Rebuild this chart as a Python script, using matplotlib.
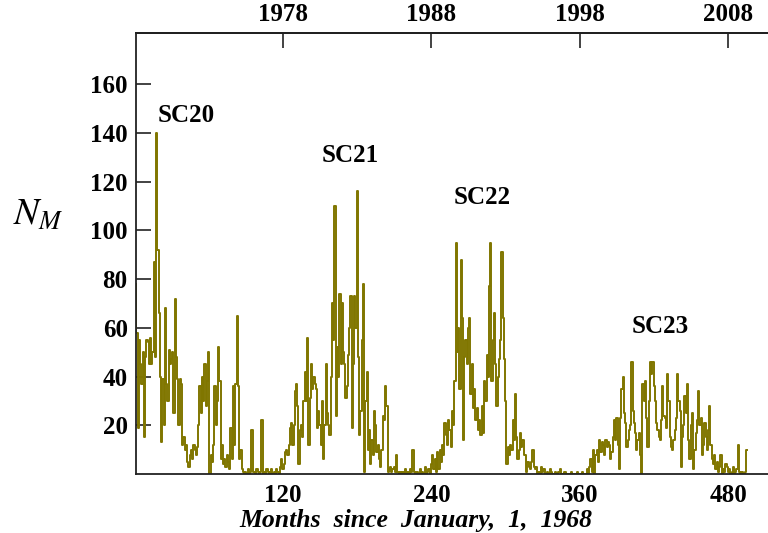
import numpy as np
import matplotlib
matplotlib.use("Agg")
import matplotlib.pyplot as plt

# monthly N_M values, month 1 = Jan 1968
cycle20 = [
    78, 58, 19, 55, 45, 37, 50, 15, 48, 55, 54, 45,
    56, 45, 50, 87, 48, 140, 92, 66, 40, 13, 39, 20,
    68, 37, 30, 51, 45, 47, 50, 25, 72, 48, 39, 20,
    39, 37, 12, 15, 10, 12, 5, 3, 8, 10, 6, 12,
    10, 8, 11, 20, 36, 25, 40, 30, 45, 28, 38, 50,
    0, 8, 5, 12, 36, 20, 30, 52, 38, 6, 12, 4,
    6, 3, 8, 5, 2, 19, 6, 36, 12, 37, 65, 36,
    6, 10, 2, 1, 0, 1, 0, 2, 0, 1, 18, 1,
    1, 0, 2, 1, 0, 1, 22, 0, 1, 0, 2, 1,
    0, 1, 2, 0, 1, 0, 2, 1, 0, 3, 6, 2,
]
cycle21 = [
    4, 9, 10, 8, 12, 19, 21, 12, 20, 34, 37, 28,
    4, 18, 20, 15, 30, 42, 30, 56, 12, 31, 45, 35,
    40, 37, 35, 19, 26, 20, 12, 30, 6, 20, 45, 25,
    20, 16, 40, 70, 55, 110, 24, 52, 40, 74, 45, 70,
    50, 45, 31, 36, 49, 60, 73, 19, 45, 73, 60, 116,
    48, 16, 26, 55, 78, 1, 30, 42, 10, 18, 4, 14,
    8, 26, 20, 9, 12, 6, 3, 10, 24, 22, 36, 28,
    1, 2, 3, 1, 2, 3, 1, 8, 1, 0, 1, 0,
    1, 0, 2, 0, 1, 0, 2, 1, 10, 1, 0, 1,
]
cycle22 = [
    1, 0, 2, 0, 1, 0, 3, 0, 1, 2, 0, 4,
    8, 2, 6, 1, 9, 2, 10, 5, 12, 8, 21, 16,
    12, 22, 18, 11, 26, 20, 38, 95, 50, 60, 35, 88,
    64, 14, 48, 55, 45, 60, 64, 33, 45, 27, 35, 22,
    27, 18, 22, 16, 28, 17, 38, 30, 49, 40, 77, 95,
    38, 55, 66, 45, 28, 40, 47, 55, 91, 64, 47, 30,
    4, 11, 8, 12, 10, 22, 14, 33, 15, 6, 10, 17,
    11, 14, 8, 8, 1, 5, 3, 2, 5, 10, 3, 2,
    3, 0, 1, 0, 3, 1, 2, 0, 0, 1, 0, 2,
    1, 0, 0, 1, 0, 0, 1, 2, 0, 0, 0, 1,
    0, 0, 0, 0, 1, 0, 0, 0, 0, 1, 0, 0,
    0, 1, 0, 0, 0, 2, 0, 3, 6, 1, 10, 0,
]
cycle23 = [
    8, 10, 5, 14, 9, 13, 12, 8, 14, 11, 13, 12,
    6, 9, 15, 22, 14, 23, 12, 2, 23, 35, 40, 25,
    21, 11, 14, 18, 20, 46, 26, 21, 17, 10, 14, 17,
    8, 0, 37, 30, 38, 23, 11, 30, 46, 41, 46, 36,
    30, 21, 18, 15, 14, 22, 36, 24, 23, 19, 41, 30,
    15, 11, 10, 14, 18, 23, 41, 30, 26, 3, 15, 20,
    32, 25, 37, 14, 6, 20, 25, 2, 10, 17, 22, 34,
    20, 23, 8, 12, 21, 15, 10, 18, 28, 12, 6, 4,
    8, 2, 5, 1, 3, 8, 0, 2, 1, 4, 3, 1,
    2, 0, 1, 3, 0, 1, 2, 12, 1, 0, 1, 0,
    0, 1, 10,
]

month_ticks = [120, 240, 360, 480]
year_labels = ["1978", "1988", "1998", "2008"]
y_ticks = [20, 40, 60, 80, 100, 120, 140, 160]
cycle_names = ["SC20", "SC21", "SC22", "SC23"]
cycle_label_pos = [(41.6, 147.3), (174, 130.8), (281, 113.6), (424.6, 60.6)]

nm = np.array(cycle20 + cycle21 + cycle22 + cycle23, dtype=float)
months = np.arange(1, len(nm) + 1)

# ===============================================
# FIGURE SETUP
# ===============================================
plt.rcParams["font.family"] = ["Liberation Serif", "DejaVu Serif"]
plt.rcParams["mathtext.fontset"] = "stix"

W, H = 768, 533
fig = plt.figure(figsize=(W / 100, H / 100), dpi=100)
ax = fig.add_axes([136 / W, (H - 474) / H, (W - 136) / W, (474 - 33) / H])

ax.plot(months, nm, color="#807600", lw=1.4, drawstyle="steps-mid")

ax.set_xlim(1.2, 512)
ax.set_ylim(0, 181)

ax.set_xticks(month_ticks)
ax.set_yticks(y_ticks)
ax.tick_params(axis="both", direction="in", labelsize=18, color="#222222")
ax.tick_params(axis="x", length=0, pad=7)
ax.tick_params(axis="y", length=11, width=1.2, pad=6)
for lab in ax.get_xticklabels() + ax.get_yticklabels():
    lab.set_fontweight("bold")

ax.spines["right"].set_visible(False)
for s in ["left", "bottom", "top"]:
    ax.spines[s].set_linewidth(1.3)
    ax.spines[s].set_color("#222222")

# year axis on top
top = ax.secondary_xaxis("top")
top.set_xticks(month_ticks, labels=year_labels)
top.tick_params(direction="in", length=11, width=1.2, labelsize=18,
                pad=5, color="#222222")
for lab in top.get_xticklabels():
    lab.set_fontweight("bold")
top.spines["top"].set_linewidth(1.3)

for name, (cx, cy) in zip(cycle_names, cycle_label_pos):
    ax.text(cx, cy, name, ha="center", va="center", fontsize=18,
            fontweight="bold")

fig.text(416 / W, 1 - 521 / H, "Months  since  January,  1,  1968",
         ha="center", va="center", fontsize=18.5, style="italic",
         fontweight="bold")
fig.text(38 / W, 1 - 216 / H, r"$N_M$", ha="center", va="center",
         fontsize=27)

fig.savefig("out.png", dpi=100)
